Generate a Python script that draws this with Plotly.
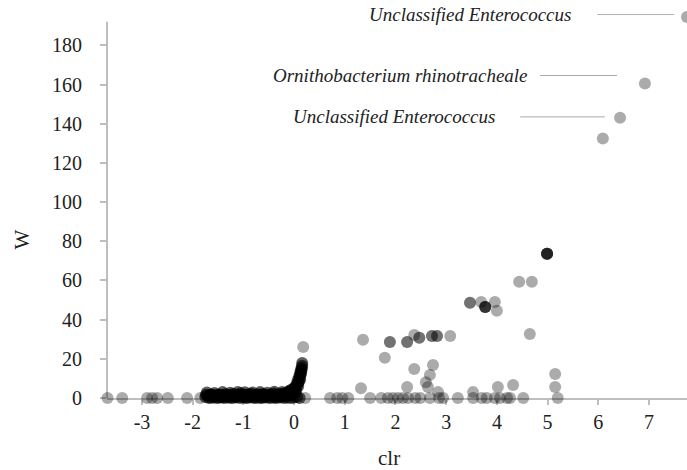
import plotly.graph_objects as go

# ---- data ----
left_x = [-3.68, -3.39, -2.90, -2.80, -2.70, -2.49, -2.11, -1.85]
left_y = [0, 0, 0, 0, 0, 0, 0, 0]

cluster_x = [-1.75, -1.71, -1.66, -1.63, -1.58, -1.55, -1.50, -1.47, -1.43, -1.39,
             -1.36, -1.31, -1.28, -1.24, -1.20, -1.17, -1.13, -1.09, -1.05, -1.02,
             -0.98, -0.95, -0.91, -0.87, -0.84, -0.80, -0.76, -0.73, -0.69, -0.65,
             -0.62, -0.58, -0.55, -0.51, -0.47, -0.44, -0.40, -0.37, -0.33, -0.29,
             -0.26, -0.22, -0.18, -0.15, -0.11, -0.08, -0.05, -0.02, 0.01, 0.03,
             0.05, 0.07, 0.09, 0.10, 0.12, 0.13, 0.15, 0.16,
             -1.68, -1.60, -1.52, -1.45, -1.38, -1.30, -1.22, -1.15, -1.07, -1.00,
             -0.93, -0.86, -0.78, -0.71, -0.64, -0.57, -0.49, -0.42, -0.35, -0.28,
             -0.20, -0.13, -0.06, 0.00, 0.06, 0.11,
             -1.72, -1.57, -1.41, -1.26, -1.11, -0.97, -0.82, -0.67, -0.53, -0.39,
             -0.24, -0.10, 0.04, 0.08, 0.12, 0.14,
             -1.74, -1.69, -1.64, -1.59, -1.53, -1.48, -1.42, -1.37, -1.32, -1.27,
             -1.21, -1.16, -1.10, -1.04, -0.99, -0.94, -0.88, -0.83, -0.77, -0.72,
             -0.66, -0.61, -0.56, -0.50, -0.45, -0.38, -0.32, -0.27, -0.21, -0.16,
             -0.12, -0.07, -0.03, 0.02, 0.06, 0.09, 0.11, 0.13, 0.15, 0.16]
cluster_y = [0.5, 1.2, 0.3, 1.8, 0.6, 1.0, 0.2, 1.5, 0.8, 0.4,
             1.9, 0.7, 1.1, 0.3, 2.1, 0.9, 0.5, 1.4, 2.4, 0.6,
             1.2, 0.3, 1.8, 0.8, 2.2, 0.4, 1.3, 0.9, 1.6, 0.2,
             2.0, 0.7, 1.1, 0.5, 1.7, 0.9, 2.3, 0.4, 1.2, 0.8,
             1.9, 0.6, 2.5, 1.0, 3.2, 1.5, 4.4, 2.2, 5.5, 3.0,
             7.0, 9.0, 8.0, 11.0, 12.5, 14.0, 15.5, 17.9,
             0, 0.1, 0, 0.2, 0, 0.1, 0, 0.3, 0, 0.1,
             0, 0.2, 0, 0.1, 0, 0.2, 0, 0.1, 0, 0.2,
             0, 0.1, 0, 0.3, 0.5, 0,
             2.8, 2.6, 3.0, 2.7, 3.1, 2.9, 2.8, 3.0, 2.7, 3.2,
             3.0, 3.6, 4.0, 6.0, 9.5, 13.0,
             1.6, 1.4, 1.7, 1.3, 1.5, 1.8, 1.4, 1.6, 1.5, 1.7,
             1.3, 1.6, 1.8, 1.5, 1.4, 1.7, 1.5, 1.6, 1.3, 1.8,
             1.5, 1.4, 1.7, 1.6, 1.5, 1.8, 1.6, 1.9, 2.0, 2.2,
             2.6, 3.0, 3.8, 4.8, 6.5, 8.5, 10.5, 12.0, 14.5, 16.5]

right_x = [0.22, 0.71, 0.85, 0.95, 1.07, 1.50, 1.72, 1.85, 1.95, 2.05, 2.15, 2.25,
           2.39, 2.49, 2.68, 2.86, 2.94, 3.23, 3.53, 3.70, 3.80, 3.96, 4.06, 4.20,
           4.26, 4.52, 5.20]
right_y = [0] * 27

raised_x = [0.18, 1.32, 1.36, 1.79, 1.89, 1.89, 2.23, 2.23, 2.23, 2.37, 2.47, 2.47,
            2.37, 2.60, 2.64, 2.68, 2.74, 2.72, 2.72, 2.82, 2.82, 2.84, 3.08,
            3.47, 3.47, 3.53, 3.69, 3.77, 3.77, 3.77, 3.77, 3.96, 4.00, 4.02, 4.32,
            4.44, 4.69, 4.65, 4.99, 4.99, 4.99, 4.99, 4.99, 5.15, 5.15,
            6.09, 6.43, 6.92, 7.75]
raised_y = [26.0, 5.0, 29.7, 20.5, 28.6, 28.6, 28.6, 28.6, 5.6, 32.2, 30.7, 30.7,
            14.8, 8.0, 5.6, 11.8, 16.9, 31.7, 31.7, 31.7, 31.7, 3.0, 31.7,
            48.6, 48.6, 3.0, 49.0, 46.5, 46.5, 46.5, 46.5, 49.0, 44.5, 5.6, 6.6,
            59.3, 59.3, 32.7, 73.6, 73.6, 73.6, 73.6, 73.6, 12.2, 5.6,
            132.4, 143.1, 160.5, 194.5]

label_text = ["Unclassified Enterococcus", "Ornithobacterium rhinotracheale",
              "Unclassified Enterococcus"]
label_x = [5.50, 4.65, 4.00]
label_y = [195.8, 164.6, 143.5]
line_x0 = [5.98, 4.85, 4.46]
line_x1 = [7.50, 6.37, 6.13]

X_RANGE = [-3.69, 7.75]
Y_MAX = 196
Y_AXIS_TOP = 192
x_ticks = [-3, -2, -1, 0, 1, 2, 3, 4, 5, 6, 7]
y_ticks = [0, 20, 40, 60, 80, 100, 120, 140, 160, 180]
x_title = "clr"
y_title = "W"

other_x = left_x + right_x + raised_x
other_y = left_y + right_y + raised_y

FONT = "Liberation Serif"
AXC = "rgb(190,190,190)"

fig = go.Figure()
fig.add_trace(go.Scatter(
    x=other_x, y=other_y, mode="markers", cliponaxis=False,
    marker=dict(size=12, color="black", opacity=0.33, line=dict(width=0)),
    showlegend=False, hoverinfo="x+y"))
fig.add_trace(go.Scatter(
    x=cluster_x, y=cluster_y, mode="markers", cliponaxis=False,
    marker=dict(size=12, color="black", opacity=0.62, line=dict(width=0)),
    showlegend=False, hoverinfo="x+y"))

# vertical axis line (stops at the top of the reference axis)
shapes = [dict(type="line", xref="x domain", yref="y", x0=0, x1=0, y0=0, y1=Y_AXIS_TOP,
               line=dict(color=AXC, width=2), layer="below")]
annotations = []
for t, lx, ly, x0, x1 in zip(label_text, label_x, label_y, line_x0, line_x1):
    if ly > Y_MAX:
        yref, yv = "y domain", ly / Y_MAX
    else:
        yref, yv = "y", ly
    annotations.append(dict(x=lx, y=yv, xref="x", yref=yref, text="<i>" + t + "</i>",
                            showarrow=False, xanchor="right", yanchor="middle",
                            font=dict(family=FONT, size=19, color="#222")))
    shapes.append(dict(type="line", xref="x", yref=yref, x0=x0, x1=x1, y0=yv, y1=yv,
                       line=dict(color="#aaaaaa", width=1)))

# axis titles placed as annotations (offset like the reference)
annotations.append(dict(text=x_title, xref="x domain", yref="y domain", x=0.486, y=-0.156,
                        showarrow=False, xanchor="center", yanchor="middle",
                        font=dict(family=FONT, size=21, color="#222")))
annotations.append(dict(text=y_title, xref="x domain", yref="y domain", x=-0.147, y=0.412,
                        showarrow=False, xanchor="center", yanchor="middle", textangle=-90,
                        font=dict(family=FONT, size=21, color="#222")))

fig.update_layout(
    width=687, height=470,
    margin=dict(l=107, r=0, t=14, b=72, autoexpand=False),
    paper_bgcolor="white", plot_bgcolor="white",
    font=dict(family=FONT, size=20, color="#222"),
    shapes=shapes, annotations=annotations,
    xaxis=dict(range=X_RANGE, tickvals=x_ticks, ticktext=[str(v) for v in x_ticks],
               automargin=False, layer="below traces",
               showgrid=False, zeroline=False, showline=True, linecolor=AXC, linewidth=2,
               ticks="outside", ticklen=5, tickcolor=AXC, tickwidth=1.5,
               tickfont=dict(family=FONT, size=20, color="#222")),
    yaxis=dict(range=[0, Y_MAX], tickvals=y_ticks, automargin=False, layer="below traces",
               showgrid=False, zeroline=False, showline=False,
               ticks="outside", ticklen=6, tickcolor=AXC, tickwidth=1.5,
               tickfont=dict(family=FONT, size=20, color="#222"),
               ticklabelstandoff=14),
)

fig.write_html("out.html", config={"displayModeBar": False},
               post_script="document.body.style.margin='0';")
